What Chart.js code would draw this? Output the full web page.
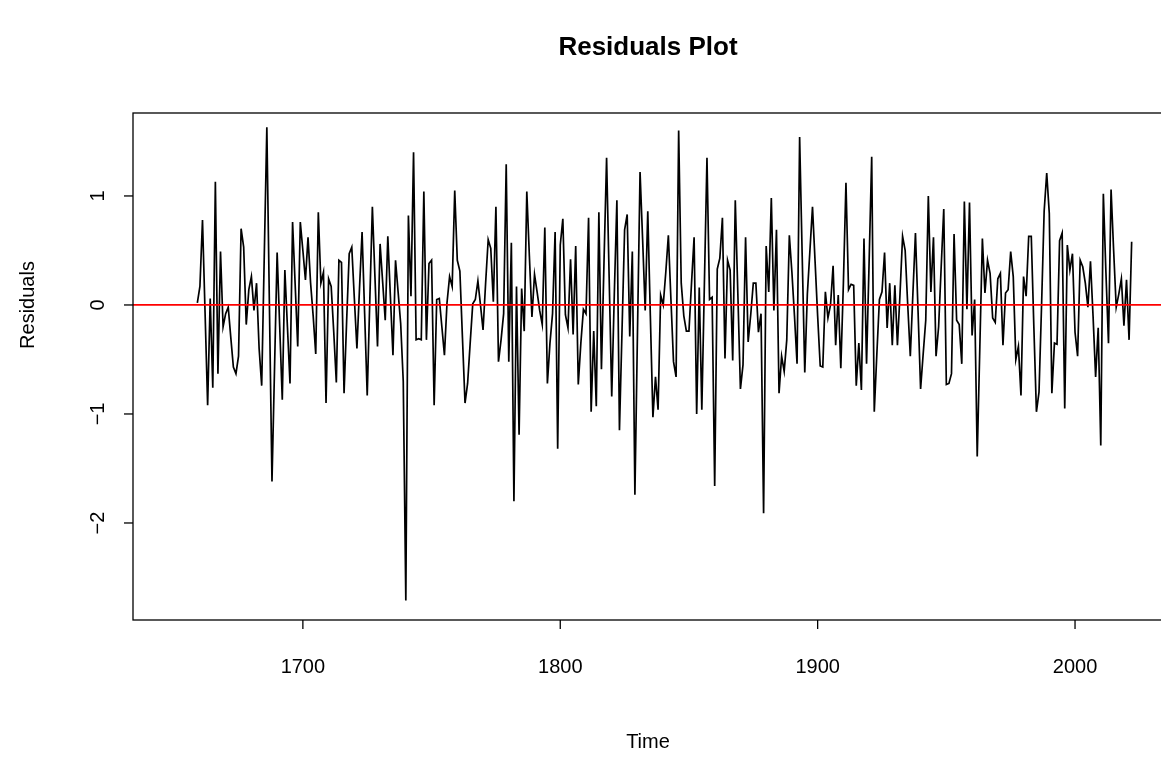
<!DOCTYPE html>
<html>
<head>
<meta charset="utf-8">
<title>Residuals Plot</title>
<script src="https://cdn.jsdelivr.net/npm/chart.js@4"></script>
<style>
  html, body { margin: 0; padding: 0; background: #fff; overflow: hidden; }
  canvas { display: block; }
</style>
</head>
<body>
<canvas id="residualsChart" width="1161" height="767"></canvas>
<script>
// residuals of the yearly series, one value per year from startYear on
const startYear = 1659;
const residuals = [
  0.02, 0.17, 0.78, -0.07, -0.92, 0.06, -0.76, 1.13, -0.63, 0.49,   // 1659
  -0.20, -0.08, -0.02, -0.30, -0.57, -0.63, -0.47, 0.70, 0.53, -0.18, // 1669
  0.14, 0.26, -0.05, 0.20, -0.40, -0.74, 0.45, 1.63, 0.00, -1.62,    // 1679
  -0.57, 0.48, -0.20, -0.87, 0.32, -0.20, -0.72, 0.76, 0.19, -0.38,  // 1689
  0.76, 0.50, 0.23, 0.62, 0.20, -0.10, -0.45, 0.85, 0.20, 0.30,      // 1699
  -0.90, 0.24, 0.17, -0.25, -0.71, 0.41, 0.39, -0.81, -0.15, 0.47,   // 1709
  0.53, 0.06, -0.40, 0.15, 0.67, -0.08, -0.83, 0.04, 0.90, 0.26,     // 1719
  -0.38, 0.56, 0.21, -0.14, 0.63, 0.08, -0.46, 0.41, 0.12, -0.17,    // 1729
  -0.70, -2.71, 0.82, 0.08, 1.40, -0.32, -0.31, -0.32, 1.04, -0.32,  // 1739
  0.38, 0.41, -0.92, 0.05, 0.06, -0.20, -0.46, 0.02, 0.26, 0.17,     // 1749
  1.05, 0.41, 0.31, -0.30, -0.90, -0.72, -0.35, 0.01, 0.05, 0.22,    // 1759
  0.00, -0.23, 0.20, 0.60, 0.52, 0.03, 0.90, -0.52, -0.32, -0.08,    // 1769
  1.29, -0.52, 0.57, -1.80, 0.17, -1.19, 0.15, -0.24, 1.04, 0.45,    // 1779
  -0.11, 0.28, 0.12, -0.05, -0.18, 0.71, -0.72, -0.35, -0.08, 0.67,  // 1789
  -1.32, 0.55, 0.79, -0.09, -0.21, 0.42, -0.27, 0.54, -0.73, -0.35,  // 1799
  -0.04, -0.08, 0.80, -0.98, -0.24, -0.93, 0.85, -0.59, 0.40, 1.35,  // 1809
  0.25, -0.84, 0.10, 0.96, -1.15, -0.23, 0.69, 0.83, -0.29, 0.49,    // 1819
  -1.74, -0.25, 1.22, 0.60, -0.05, 0.86, -0.10, -1.03, -0.66, -0.96, // 1829
  0.09, 0.00, 0.30, 0.64, 0.05, -0.52, -0.66, 1.60, 0.20, -0.10,     // 1839
  -0.24, -0.24, 0.20, 0.62, -1.00, 0.16, -0.96, 0.20, 1.35, 0.05,    // 1849
  0.07, -1.66, 0.33, 0.43, 0.80, -0.49, 0.41, 0.32, -0.51, 0.96,     // 1859
  0.10, -0.77, -0.55, 0.62, -0.34, -0.09, 0.20, 0.20, -0.25, -0.08,  // 1869
  -1.91, 0.54, 0.12, 0.98, -0.05, 0.69, -0.81, -0.47, -0.61, -0.32,  // 1879
  0.64, 0.30, -0.10, -0.54, 1.54, 0.45, -0.62, 0.10, 0.50, 0.90,     // 1889
  0.40, -0.10, -0.56, -0.57, 0.12, -0.12, 0.00, 0.36, -0.37, 0.09,   // 1899
  -0.58, 0.20, 1.12, 0.14, 0.19, 0.18, -0.74, -0.35, -0.78, 0.61,    // 1909
  -0.54, 0.40, 1.36, -0.98, -0.45, 0.05, 0.12, 0.48, -0.21, 0.20,    // 1919
  -0.37, 0.18, -0.37, 0.10, 0.63, 0.50, 0.00, -0.47, 0.10, 0.66,     // 1929
  -0.05, -0.77, -0.45, -0.14, 1.00, 0.12, 0.62, -0.47, -0.20, 0.35,  // 1939
  0.88, -0.73, -0.72, -0.63, 0.65, -0.14, -0.18, -0.54, 0.95, -0.04, // 1949
  0.94, -0.28, 0.05, -1.39, -0.40, 0.61, 0.11, 0.41, 0.29, -0.12,    // 1959
  -0.16, 0.24, 0.29, -0.37, 0.11, 0.14, 0.49, 0.26, -0.50, -0.38,    // 1969
  -0.83, 0.26, 0.08, 0.63, 0.63, -0.20, -0.98, -0.80, 0.00, 0.86,    // 1979
  1.21, 0.84, -0.81, -0.35, -0.36, 0.59, 0.66, -0.95, 0.55, 0.32,    // 1989
  0.47, -0.25, -0.47, 0.41, 0.35, 0.20, -0.02, 0.40, -0.10, -0.66,   // 1999
  -0.21, -1.29, 1.02, 0.30, -0.35, 1.06, 0.50, -0.02, 0.10, 0.24,    // 2009
  -0.19, 0.23, -0.32, 0.58                                           // 2019
];
const xTicks = [1700, 1800, 1900, 2000];
const yTicks = [-2, -1, 0, 1];
const yTickLabels = ['\u22122', '\u22121', '0', '1'];
const refLine = 0;

const FONT = "'Liberation Sans', Arial, Helvetica, sans-serif";

// R-style frame, ticks, labels and the horizontal reference line
const rStyle = {
  id: 'rStyle',
  afterDatasetsDraw(chart) {
    const { ctx, chartArea: a, scales: { y } } = chart;
    const yy = y.getPixelForValue(refLine);
    ctx.save();
    ctx.strokeStyle = '#ff0000';
    ctx.lineWidth = 1.8;
    ctx.beginPath();
    ctx.moveTo(a.left, yy);
    ctx.lineTo(a.right + 20, yy);
    ctx.stroke();
    ctx.restore();
  },
  afterDraw(chart) {
    const { ctx, chartArea: a, scales: { x, y } } = chart;
    ctx.save();
    ctx.strokeStyle = '#000';
    ctx.lineWidth = 1.3;
    // box (right side runs off the canvas, like the cropped original)
    ctx.strokeRect(a.left, a.top, a.right - a.left + 20, a.bottom - a.top);

    ctx.fillStyle = '#000';
    ctx.font = '20px ' + FONT;
    ctx.textAlign = 'center';
    ctx.textBaseline = 'middle';

    xTicks.forEach(v => {
      const px = x.getPixelForValue(v);
      ctx.beginPath();
      ctx.moveTo(px, a.bottom);
      ctx.lineTo(px, a.bottom + 9);
      ctx.stroke();
      ctx.fillText(String(v), px, a.bottom + 47);
    });

    yTicks.forEach((v, i) => {
      const py = y.getPixelForValue(v);
      ctx.beginPath();
      ctx.moveTo(a.left, py);
      ctx.lineTo(a.left - 9, py);
      ctx.stroke();
      ctx.save();
      ctx.translate(a.left - 35, py);
      ctx.rotate(-Math.PI / 2);
      ctx.fillText(yTickLabels[i], 0, 0);
      ctx.restore();
    });

    // axis titles
    ctx.fillText('Time', 648, 742);
    ctx.save();
    ctx.translate(28, 305);
    ctx.rotate(-Math.PI / 2);
    ctx.fillText('Residuals', 0, 0);
    ctx.restore();

    // main title
    ctx.font = 'bold 26px ' + FONT;
    ctx.fillText('Residuals Plot', 648, 48);
    ctx.restore();
  }
};

const ctx = document.getElementById('residualsChart').getContext('2d');
new Chart(ctx, {
  type: 'line',
  data: {
    datasets: [{
      label: 'Residuals',
      data: residuals.map((r, i) => ({ x: startYear + i, y: r })),
      borderColor: '#000',
      borderWidth: 1.7,
      pointRadius: 0,
      tension: 0,
      fill: false
    }]
  },
  options: {
    responsive: false,
    animation: false,
    devicePixelRatio: 1,
    layout: { padding: { left: 133, top: 113, right: 0, bottom: 147 } },
    plugins: {
      legend: { display: false },
      tooltip: { enabled: false },
      title: { display: false }
    },
    scales: {
      x: { type: 'linear', min: 1634, max: 2033.4, display: false },
      y: { type: 'linear', min: -2.89, max: 1.761, display: false }
    }
  },
  plugins: [rStyle]
});
</script>
</body>
</html>
